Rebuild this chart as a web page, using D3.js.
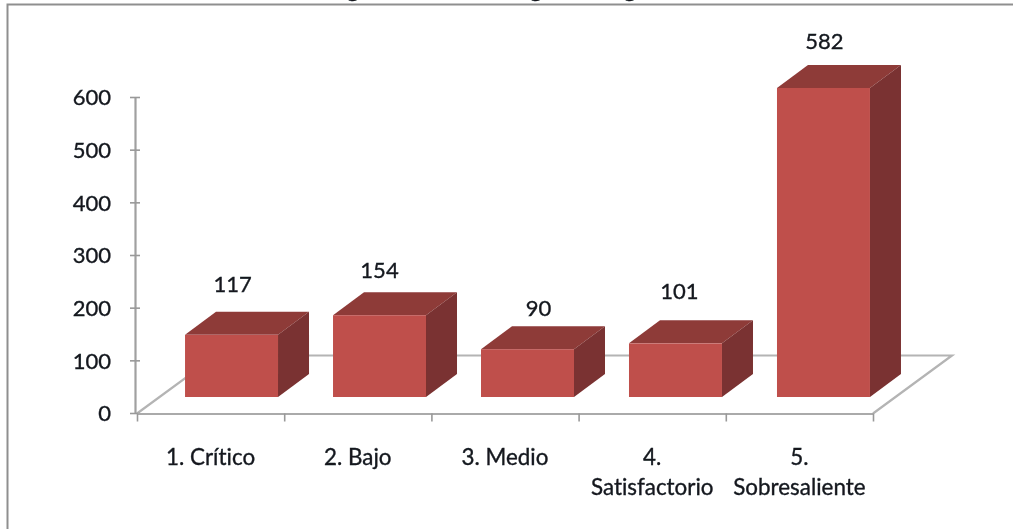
<!DOCTYPE html>
<html>
<head>
<meta charset="utf-8">
<script src="https://cdn.jsdelivr.net/npm/d3@7/dist/d3.min.js"></script>
<style>
html,body{margin:0;padding:0;background:#fff;overflow:hidden}
svg{display:block}
text{font-family:Lato,"Open Sans",sans-serif;fill:#14181f;stroke:#14181f;stroke-width:0.35px;font-variant-ligatures:none}
</style>
</head>
<body>
<svg id="c" width="1013" height="529"></svg>
<script>
const categories = ["1. Crítico", "2. Bajo", "3. Medio", "4. Satisfactorio", "5. Sobresaliente"];
const values = [117, 154, 90, 101, 582];
const yTicks = [0, 100, 200, 300, 400, 500, 600];
const labelNudge = [[1,-3],[0,3],[11,7],[4,-4],[1,1]];
const titleFragments = [[353,"g"],[536,"g"],[630,"g"]];

const W = 1013, H = 529;
const depthX = 31, depthY = 23;
const svg = d3.select("#c");
const defs = svg.append("defs");
defs.append("filter").attr("id","soft").attr("filterUnits","userSpaceOnUse")
  .attr("x",0).attr("y",0).attr("width",W).attr("height",H)
  .append("feGaussianBlur").attr("stdDeviation",0.6);
const root = svg.append("g").attr("filter","url(#soft)");

// clipped title remnants at the page's top edge, then the chart frame
root.selectAll("text.frag").data(titleFragments).join("text").attr("class","frag")
  .attr("x",d=>d[0]).attr("y",-3).attr("text-anchor","middle")
  .attr("font-size",24).attr("font-weight",700).text(d=>d[1]);
root.append("path").attr("d",`M7.5,${H+5}V4.5H${W+5}`).attr("fill","none").attr("stroke","#8f8f8f").attr("stroke-width",2);

// scales
const yAxisScale = d3.scaleLinear().domain([0,600]).range([413,97]);
const yBar = d3.scaleLinear().domain([0,600]).range([397,78.4]);
const xBand = d3.scaleBand().domain(categories).range([137,877]).paddingInner(0.3716).paddingOuter(0.186);
const xTicks = d3.scaleLinear().domain([0,categories.length]).range([137,873]);
const barShift = 20.5;

// floor
const floorX0 = xTicks.range()[0], floorX1 = xTicks.range()[1], floorY = yAxisScale(0)+0.5, backDX = 79, backDY = 58;
root.append("path")
  .attr("d",`M${floorX0},${floorY}L${floorX0+backDX},${floorY-backDY}H${floorX1+backDX}L${floorX1},${floorY}`)
  .attr("fill","none").attr("stroke","#b4b4b4").attr("stroke-width",2.2);

// axes
const gy = root.append("g").attr("transform","translate(135,0)")
  .call(d3.axisLeft(yAxisScale).tickValues(yTicks).tickSize(5).tickSizeOuter(0).tickPadding(19));
gy.select(".domain").attr("stroke","#a0a0a0").attr("stroke-width",2.2);
gy.selectAll(".tick line").attr("x2",-5).attr("x1",5).attr("stroke","#999").attr("stroke-width",1.6);
gy.selectAll(".tick text").attr("font-size",22).attr("dy","0.36em");

const gx = root.append("g").attr("transform",`translate(0,${floorY})`)
  .call(d3.axisBottom(xTicks).tickValues(d3.range(categories.length+1)).tickSize(8).tickSizeOuter(0).tickFormat(""));
gx.select(".domain").attr("stroke","#aaa").attr("stroke-width",2.2);
gx.selectAll(".tick line").attr("stroke","#999").attr("stroke-width",1.6);

// bars
const bars = root.selectAll("g.bar").data(categories.map((c,i)=>({c,v:values[i],i}))).join("g").attr("class","bar");
const bw = xBand.bandwidth();
const bx = d=>xBand(d.c)+barShift;
bars.append("path").attr("fill","#8E3A38")
  .attr("d",d=>{const x=bx(d),t=yBar(d.v);return `M${x},${t}l${depthX},${-depthY}h${bw}l${-depthX},${depthY}Z`;});
bars.append("path").attr("fill","#7A3130")
  .attr("d",d=>{const x=bx(d)+bw,t=yBar(d.v),b=yBar(0);return `M${x},${t}l${depthX},${-depthY}V${b-depthY}l${-depthX},${depthY}Z`;});
bars.append("rect").attr("fill","#BF504C")
  .attr("x",bx).attr("y",d=>yBar(d.v)).attr("width",bw).attr("height",d=>yBar(0)-yBar(d.v));

// value labels
root.selectAll("text.val").data(values).join("text").attr("class","val")
  .attr("x",(d,i)=>xBand(categories[i])+barShift+bw/2+labelNudge[i][0])
  .attr("y",(d,i)=>yBar(d)-40+labelNudge[i][1])
  .attr("text-anchor","middle").attr("font-size",22).text(d=>d);

// category labels
const cat = root.selectAll("text.cat").data(categories).join("text").attr("class","cat")
  .attr("text-anchor","middle").attr("font-size",22.4);
cat.each(function(c,k){
  const parts = c.length>10 ? c.split(" ") : [c];
  const xc = xTicks(k+0.5);
  d3.select(this).selectAll("tspan").data(parts).join("tspan")
    .attr("x",xc).attr("y",(p,i)=>465+i*30).text(p=>p);
});
</script>
</body>
</html>
